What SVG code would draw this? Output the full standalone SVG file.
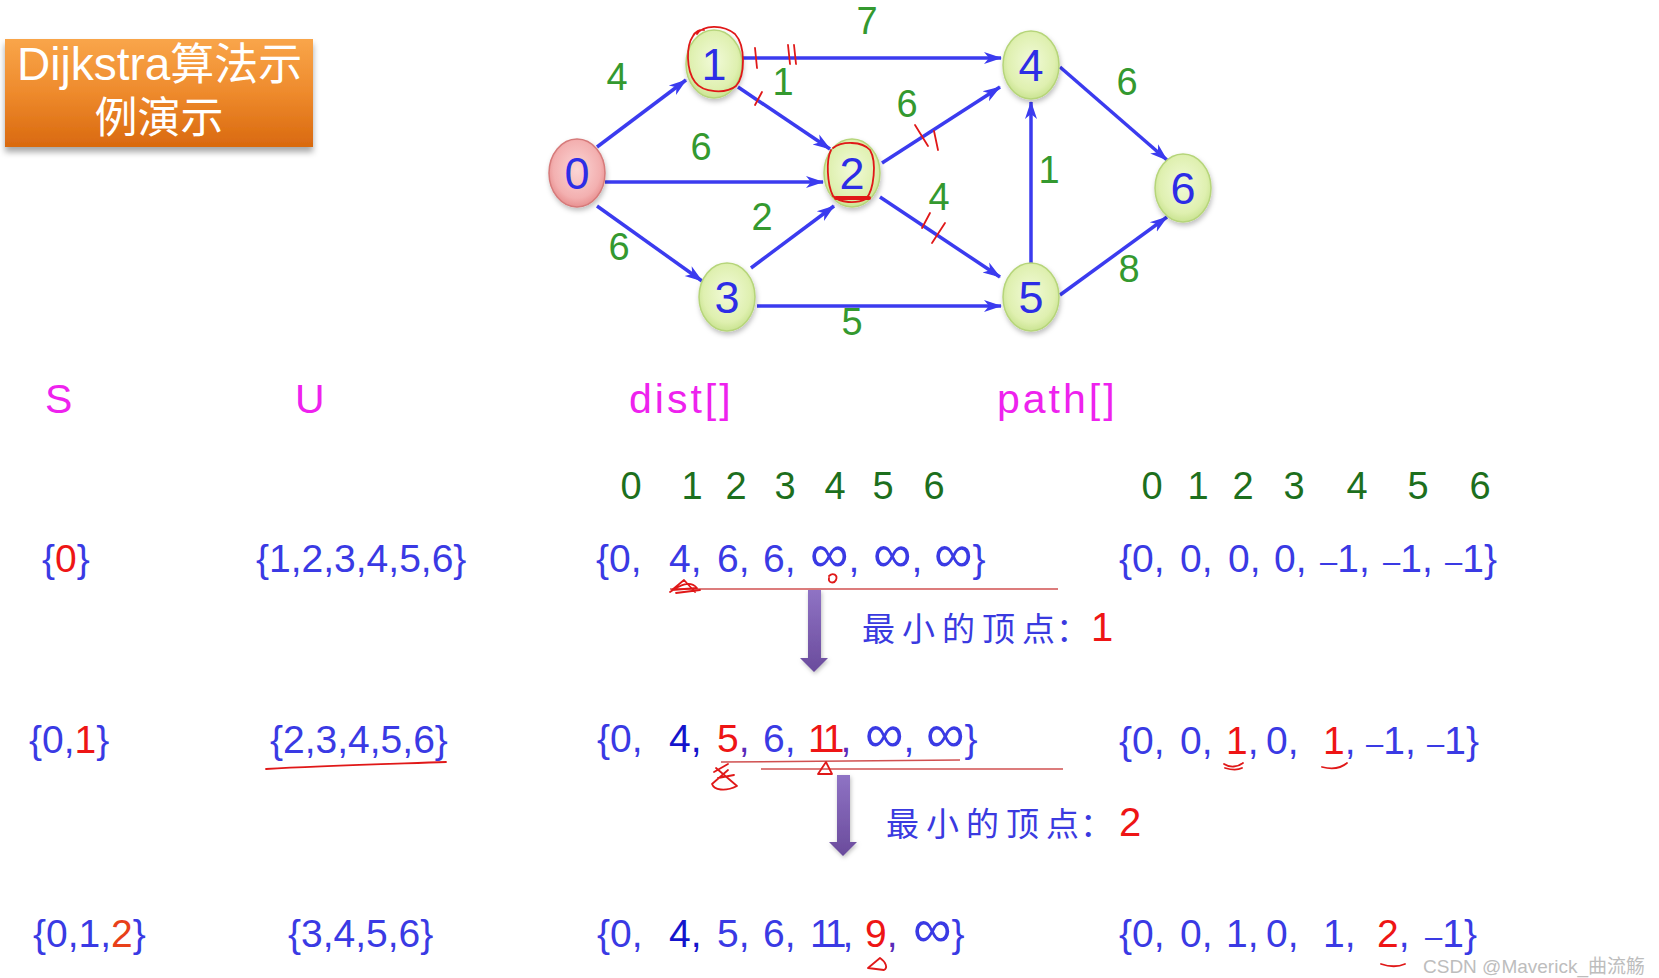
<svg xmlns="http://www.w3.org/2000/svg" width="1659" height="978" viewBox="0 0 1659 978">
<defs>
<style>
.t{font-family:"Liberation Sans",Arial,sans-serif}
.cn{font-family:"Noto Sans CJK SC","Noto Sans CJK JP",sans-serif}
.num{font-family:"Liberation Sans",Arial,sans-serif;font-size:45px;fill:#2d2de6;text-anchor:middle}
.lbl{font-family:"Liberation Sans",Arial,sans-serif;font-size:38px;fill:#34992f;text-anchor:middle}
.hdr{font-family:"Liberation Sans",Arial,sans-serif;font-size:41px;fill:#ee22ee}
.idx{font-family:"Liberation Sans",Arial,sans-serif;font-size:38px;fill:#1d6f1d;text-anchor:middle}
.row{font-family:"Liberation Sans",Arial,sans-serif;font-size:39px;fill:#3a3ae4}
.red{fill:#ee1515}
.dk{fill:#1414cc}
.pu{fill:#5a2ab8}
.inf{font-size:54px}
.ds{font-size:31px}
.eleven{letter-spacing:-4px}
.edge{stroke:#3b3bef;stroke-width:3.5;fill:none;marker-end:url(#ah)}
.gn{fill:url(#gg);stroke:#b6d57a;stroke-width:1.5;filter:url(#ns)}
.rn{fill:url(#rg);stroke:#d67a7a;stroke-width:1.5;filter:url(#ns)}
.ann{stroke:#e01818;stroke-width:1.8;fill:none;stroke-linecap:round;stroke-linejoin:round}
.rl{stroke:#d05050;stroke-width:1.5}
.zh{font-family:"Noto Sans CJK SC","Noto Sans CJK JP",sans-serif;font-size:33px;fill:#3a3ae0}
</style>
<marker id="ah" markerWidth="20" markerHeight="14" refX="17" refY="7" orient="auto" markerUnits="userSpaceOnUse">
<path d="M0,1 L18,7 L0,13 L5,7 Z" fill="#3b3bef"/>
</marker>
<radialGradient id="gg" cx="50%" cy="45%" r="60%">
<stop offset="0" stop-color="#f1fad8"/>
<stop offset="0.7" stop-color="#dff0b0"/>
<stop offset="1" stop-color="#c2df86"/>
</radialGradient>
<radialGradient id="rg" cx="50%" cy="45%" r="60%">
<stop offset="0" stop-color="#fbd6d6"/>
<stop offset="0.7" stop-color="#f3b0b0"/>
<stop offset="1" stop-color="#e48484"/>
</radialGradient>
<linearGradient id="og" x1="0" y1="0" x2="0" y2="1">
<stop offset="0" stop-color="#f9a54a"/>
<stop offset="0.5" stop-color="#ee8a2c"/>
<stop offset="1" stop-color="#d9690f"/>
</linearGradient>
<linearGradient id="pg" x1="0" y1="0" x2="0" y2="1">
<stop offset="0" stop-color="#8f73c4"/>
<stop offset="1" stop-color="#6a4b9c"/>
</linearGradient>
<filter id="ns" x="-30%" y="-30%" width="160%" height="170%">
<feDropShadow dx="1" dy="3" stdDeviation="2.5" flood-color="#000" flood-opacity="0.25"/>
</filter>
<filter id="bs" x="-10%" y="-20%" width="120%" height="150%">
<feDropShadow dx="0" dy="5" stdDeviation="3" flood-color="#000" flood-opacity="0.35"/>
</filter>
<filter id="as" x="-60%" y="-10%" width="220%" height="130%">
<feDropShadow dx="1" dy="2" stdDeviation="2" flood-color="#000" flood-opacity="0.25"/>
</filter>
</defs>
<rect width="1659" height="978" fill="#ffffff"/>

<g id="title">
<rect x="5" y="39" width="308" height="108" fill="url(#og)" filter="url(#bs)"/>
<text x="17" y="80" fill="#ffffff" font-size="46" class="t">Dijkstra<tspan class="cn" font-size="44">算法示</tspan></text>
<text x="159" y="133" fill="#ffffff" font-size="43" class="cn" text-anchor="middle">例演示</text>
</g>

<g id="connectors">
<line class="edge" x1="597" y1="147" x2="686" y2="80"/>
<line class="edge" x1="605" y1="182" x2="823" y2="182"/>
<line class="edge" x1="597" y1="206" x2="702" y2="281"/>
<line class="edge" x1="742" y1="58" x2="1001" y2="58"/>
<line class="edge" x1="738" y1="87" x2="830" y2="149"/>
<line class="edge" x1="751" y1="268" x2="834" y2="206"/>
<line class="edge" x1="882" y1="163" x2="1000" y2="87"/>
<line class="edge" x1="880" y1="197" x2="1000" y2="277"/>
<line class="edge" x1="757" y1="306" x2="1001" y2="306"/>
<line class="edge" x1="1031" y1="263" x2="1031" y2="102"/>
<line class="edge" x1="1060" y1="67" x2="1167" y2="160"/>
<line class="edge" x1="1060" y1="295" x2="1167" y2="217"/>
</g>

<g id="edge-labels">
<text class="lbl" x="867" y="34">7</text>
<text class="lbl" x="617" y="90">4</text>
<text class="lbl" x="783" y="95">1</text>
<text class="lbl" x="701" y="160">6</text>
<text class="lbl" x="907" y="117">6</text>
<text class="lbl" x="762" y="230">2</text>
<text class="lbl" x="939" y="210">4</text>
<text class="lbl" x="619" y="260">6</text>
<text class="lbl" x="852" y="335">5</text>
<text class="lbl" x="1049" y="183">1</text>
<text class="lbl" x="1127" y="95">6</text>
<text class="lbl" x="1129" y="282">8</text>
</g>

<g id="node-0"><ellipse class="rn" cx="577" cy="173" rx="28" ry="34"/><text class="num" x="577" y="189">0</text></g>
<g id="node-1"><ellipse class="gn" cx="714" cy="64" rx="28" ry="34"/><text class="num" x="714" y="80">1</text></g>
<g id="node-2"><ellipse class="gn" cx="852" cy="173" rx="28" ry="34"/><text class="num" x="852" y="189">2</text></g>
<g id="node-3"><ellipse class="gn" cx="727" cy="297" rx="28" ry="34"/><text class="num" x="727" y="313">3</text></g>
<g id="node-4"><ellipse class="gn" cx="1031" cy="65" rx="28" ry="34"/><text class="num" x="1031" y="81">4</text></g>
<g id="node-5"><ellipse class="gn" cx="1031" cy="297" rx="28" ry="34"/><text class="num" x="1031" y="313">5</text></g>
<g id="node-6"><ellipse class="gn" cx="1183" cy="188" rx="28" ry="34"/><text class="num" x="1183" y="204">6</text></g>

<g id="graph-annotations">
<path class="ann" d="M697,34 C704,24 724,25 735,34 C746,46 745,76 736,86 C726,94 703,93 695,82 C686,70 686,46 693,36 C695,32 700,29 704,30"/>
<path class="ann" d="M833,148 C842,141 862,141 870,150 C877,162 874,190 866,199 C856,204 840,203 833,196 C827,184 826,160 831,150"/>
<path d="M836,198 L869,198" stroke="#e01818" stroke-width="4" stroke-linecap="round"/>
<path class="ann" d="M755,48 L757,68"/>
<path class="ann" d="M788,45 L790,64 M794,45 L796,64"/>
<path class="ann" d="M755,105 L762,92"/>
<path class="ann" d="M915,125 L928,146 M934,131 L938,150"/>
<path class="ann" d="M922,228 L930,213 M932,243 L945,223"/>
</g>

<g id="headers">
<text class="hdr" x="45" y="413">S</text>
<text class="hdr" x="295" y="413">U</text>
<text class="hdr" x="629" y="413" letter-spacing="3">dist[]</text>
<text class="hdr" x="997" y="413" letter-spacing="3">path[]</text>
</g>

<g id="indices">
<text class="idx" x="631" y="499">0</text><text class="idx" x="692" y="499">1</text><text class="idx" x="736" y="499">2</text><text class="idx" x="785" y="499">3</text><text class="idx" x="835" y="499">4</text><text class="idx" x="883" y="499">5</text><text class="idx" x="934" y="499">6</text>
<text class="idx" x="1152" y="499">0</text><text class="idx" x="1198" y="499">1</text><text class="idx" x="1243" y="499">2</text><text class="idx" x="1294" y="499">3</text><text class="idx" x="1357" y="499">4</text><text class="idx" x="1418" y="499">5</text><text class="idx" x="1480" y="499">6</text>
</g>

<g id="row-1">
<text class="row" x="42" y="572">{<tspan class="red">0</tspan>}</text>
<text class="row" x="256" y="572">{1,2,3,4,5,6}</text>
<text class="row" y="572"><tspan x="596">{0,</tspan><tspan x="669">4,</tspan><tspan x="717">6,</tspan><tspan x="763">6,</tspan><tspan x="810" class="inf">∞</tspan>,<tspan x="873" class="inf">∞</tspan>,<tspan x="934" class="inf">∞</tspan>}</text>
<text class="row" y="572"><tspan x="1119">{0,</tspan><tspan x="1180">0,</tspan><tspan x="1228">0,</tspan><tspan x="1274">0,</tspan><tspan x="1320" class="ds">–</tspan>1,<tspan x="1383" class="ds">–</tspan>1,<tspan x="1445" class="ds">–</tspan>1}</text>
</g>

<g id="step-1">
<line class="rl" x1="670" y1="589" x2="1058" y2="589"/>
<path class="ann" d="M670,592 C680,585 690,580 697,588 L672,590 L684,580 L695,592 M676,593 L700,590"/>
<path class="ann" d="M829,576 C833,572 838,575 836,580 C834,584 828,583 829,578"/>
<path d="M808,590 H821 V658 H828 L814,672 L800,658 H808 Z" fill="url(#pg)" filter="url(#as)"/>
<text class="zh" y="641"><tspan x="862">最</tspan><tspan x="902">小</tspan><tspan x="942">的</tspan><tspan x="982">顶</tspan><tspan x="1022">点</tspan></text>
<text class="zh" x="1056" y="641">：</text>
<text class="t red" x="1091" y="641" font-size="40">1</text>
</g>

<g id="row-2">
<text class="row" x="29" y="753">{0,<tspan class="red">1</tspan>}</text>
<text class="row" x="270" y="753">{2,3,4,5,6}</text>
<path class="ann" d="M266,769 C320,766 390,764 446,762"/>
<text class="row" y="752"><tspan x="597">{0,</tspan><tspan x="669" class="dk">4,</tspan><tspan x="717" class="red">5</tspan><tspan class="pu">,</tspan><tspan x="763">6,</tspan><tspan x="808" class="red eleven">11</tspan><tspan class="pu">,</tspan><tspan x="865" class="inf">∞</tspan>,<tspan x="926" class="inf">∞</tspan>}</text>
<text class="row" y="754"><tspan x="1119">{0,</tspan><tspan x="1180">0,</tspan><tspan x="1226" class="red">1</tspan>,<tspan x="1266">0,</tspan><tspan x="1323" class="red">1</tspan>,<tspan x="1366" class="ds">–</tspan>1,<tspan x="1427" class="ds">–</tspan>1}</text>
<path class="ann" d="M1224,764 C1230,768 1238,767 1243,763 M1225,768 C1232,770 1238,770 1242,768"/>
<path class="ann" d="M1322,767 C1330,769 1340,769 1347,763"/>
</g>

<g id="step-2">
<line class="rl" x1="721" y1="762" x2="960" y2="760"/>
<line class="rl" x1="761" y1="769" x2="1063" y2="769"/>
<path class="ann" d="M716,768 L737,786 C725,792 714,790 712,784 L728,770 M718,778 L734,775 M714,772 L728,764"/>
<path class="ann" d="M818,774 L826,762 L832,774 Z"/>
<path d="M837,775 H850 V842 H857 L843,856 L829,842 H837 Z" fill="url(#pg)" filter="url(#as)"/>
<text class="zh" y="836"><tspan x="886">最</tspan><tspan x="926">小</tspan><tspan x="966">的</tspan><tspan x="1006">顶</tspan><tspan x="1046">点</tspan></text>
<text class="zh" x="1080" y="836">：</text>
<text class="t red" x="1119" y="836" font-size="40">2</text>
</g>

<g id="row-3">
<text class="row" x="33" y="947">{0,1,<tspan fill="#e8401a">2</tspan>}</text>
<text class="row" x="288" y="947">{3,4,5,6}</text>
<text class="row" y="947"><tspan x="597">{0,</tspan><tspan x="669" class="dk">4,</tspan><tspan x="717">5,</tspan><tspan x="763">6,</tspan><tspan x="810" class="eleven">11</tspan>,<tspan x="865" class="red">9</tspan><tspan class="pu">,</tspan><tspan x="913" class="inf">∞</tspan>}</text>
<path class="ann" d="M868,968 L880,958 C886,962 888,968 884,970 Z"/>
<text class="row" y="947"><tspan x="1119">{0,</tspan><tspan x="1180">0,</tspan><tspan x="1226">1,</tspan><tspan x="1266">0,</tspan><tspan x="1323">1,</tspan><tspan x="1377" class="red">2</tspan>,<tspan x="1425" class="ds">–</tspan>1}</text>
<path class="ann" d="M1381,964 C1390,967 1398,967 1405,964"/>
</g>

<text class="t" x="1423" y="973" font-size="19" fill="#bdbdbd">CSDN @Maverick_<tspan class="cn">曲流觞</tspan></text>
</svg>
